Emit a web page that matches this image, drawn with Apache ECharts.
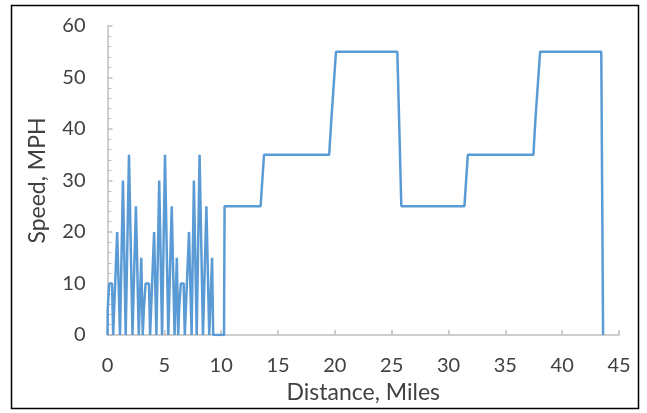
<!DOCTYPE html>
<html lang="en">
<head>
    <meta charset="UTF-8">
    <title>Speed vs Distance</title>
    <style>
        html, body {margin: 0; padding: 0; background: #fff;}
        #chart {width: 647px; height: 413px;}
    </style>
</head>
<body>
<div id="chart"></div>
<script src="https://cdn.jsdelivr.net/npm/echarts@6/dist/echarts.min.js"></script>
<script type="text/javascript">
    // 距离 (miles) 和 速度 (mph)
    var distance = [
        0, 0.02, 0.15, 0.4, 0.5, 0.85, 1.1, 1.36, 1.6, 1.89, 2.2, 2.5, 2.75, 2.97, 3.1, 3.2, 3.35, 3.65, 3.75,
        4.1, 4.3, 4.55, 4.8, 5.06, 5.35, 5.65, 5.9, 6.1, 6.22, 6.3, 6.45, 6.7, 6.8,
        7.17, 7.4, 7.6, 7.85, 8.1, 8.4, 8.7, 8.95, 9.2, 9.3,
        10.25, 10.3, 13.47, 13.77, 19.5, 19.7, 20.1, 25.5, 25.85, 31.4, 31.7, 37.47, 37.65, 38.06, 43.44, 43.6
    ];
    var speed = [
        0, 5, 10, 10, 0, 20, 0, 30, 0, 35, 0, 25, 0, 15, 0, 5, 10, 10, 0,
        20, 0, 30, 0, 35, 0, 25, 0, 15, 0, 5, 10, 10, 0,
        20, 0, 30, 0, 35, 0, 25, 0, 15, 0,
        0, 25, 25, 35, 35, 42, 55, 55, 25, 25, 35, 35, 42, 55, 55, 0
    ];
    var xTicks = {min: 0, max: 45, step: 5};
    var yTicks = {min: 0, max: 60, step: 10};

    var points = [];
    for (var i = 0; i < distance.length; i++) {
        points.push([distance[i], speed[i]]);
    }

    var font = 'Lato, "Liberation Sans", sans-serif';
    var chart = echarts.init(document.getElementById('chart'));
    chart.setOption({
        animation: false,
        grid: {left: 107.5, right: 28, top: 26, bottom: 78, containLabel: false},
        graphic: [{
            type: 'rect',
            shape: {x: 11.5, y: 5.5, width: 627, height: 403},
            style: {fill: 'none', stroke: '#000', lineWidth: 1.5}
        }],
        xAxis: {
            type: 'value',
            min: xTicks.min, max: xTicks.max, interval: xTicks.step,
            name: 'Distance, Miles',
            nameLocation: 'middle',
            nameGap: 42,
            nameTextStyle: {fontFamily: font, fontSize: 23, color: '#404040'},
            axisLine: {lineStyle: {color: '#bfbfbf', width: 1.5}},
            axisTick: {inside: true, length: 5, lineStyle: {color: '#bfbfbf', width: 1.5}},
            axisLabel: {margin: 21, fontFamily: font, fontSize: 20, color: '#404040'},
            splitLine: {show: false}
        },
        yAxis: {
            type: 'value',
            min: yTicks.min, max: yTicks.max, interval: yTicks.step,
            name: 'Speed, MPH',
            nameLocation: 'middle',
            nameGap: 58,
            nameTextStyle: {fontFamily: font, fontSize: 23, color: '#404040'},
            axisLine: {show: true, lineStyle: {color: '#bfbfbf', width: 1.5}},
            axisTick: {inside: true, length: 5, lineStyle: {color: '#bfbfbf', width: 1.5}},
            minorTick: {show: true, splitNumber: 5, length: 4, lineStyle: {color: '#bfbfbf', width: 1}},
            axisLabel: {margin: 22, fontFamily: font, fontSize: 20, color: '#404040'},
            splitLine: {show: false}
        },
        series: [{
            type: 'line',
            data: points,
            showSymbol: false,
            lineStyle: {color: '#5b9bd5', width: 2.5},
            itemStyle: {color: '#5b9bd5'}
        }]
    });
</script>
</body>
</html>
